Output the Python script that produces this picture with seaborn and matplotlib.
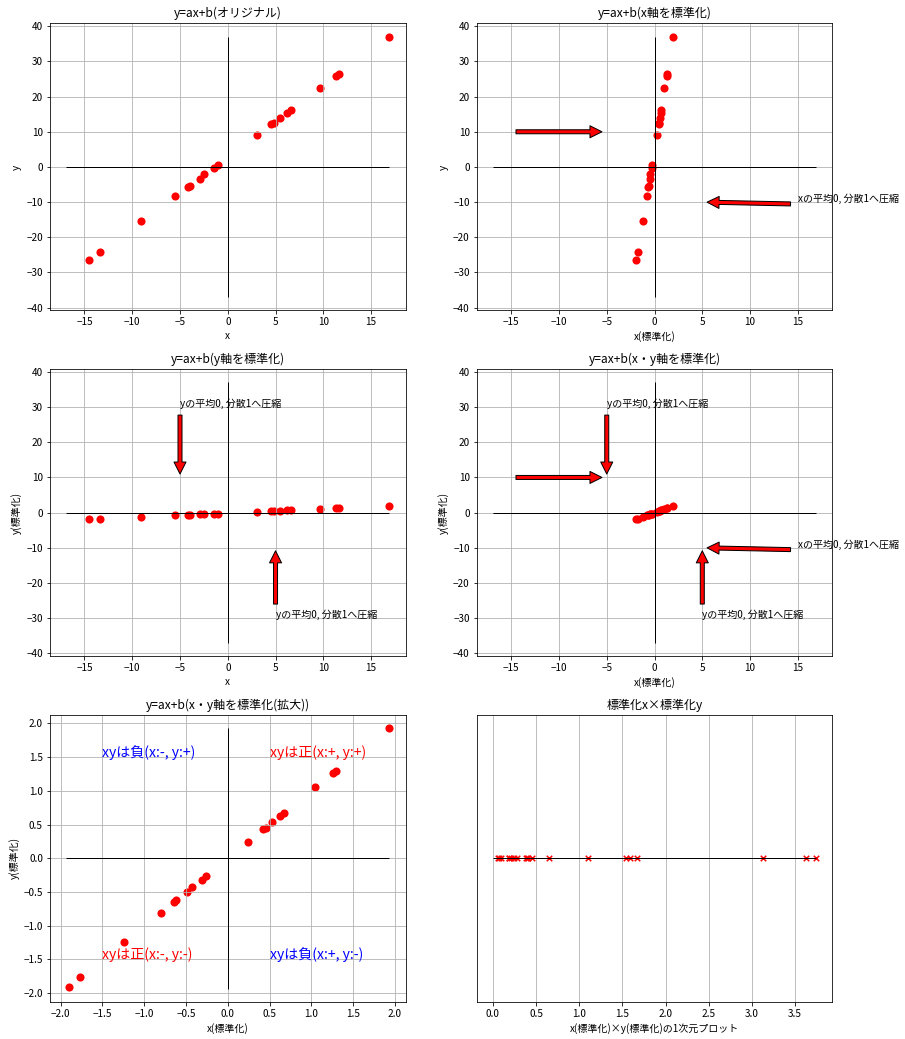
import numpy as np
import matplotlib
matplotlib.use("Agg")
import matplotlib.pyplot as plt
import seaborn as sns

# raw data
x_raw = np.array([-14.48, -13.42, -9.10, -5.50, -4.14, -3.98, -2.95, -2.45, -1.45, -1.06,
                  3.06, 4.55, 4.80, 5.43, 6.22, 6.59, 9.64, 11.38, 11.69, 16.92])
y_raw = np.array([-26.6, -24.3, -15.5, -8.4, -5.7, -5.3, -3.3, -2.1, -0.3, 0.6,
                  9.0, 12.1, 12.5, 13.9, 15.3, 16.1, 22.5, 25.9, 26.4, 37.1])

titles = ["y=ax+b(オリジナル)", "y=ax+b(x軸を標準化)", "y=ax+b(y軸を標準化)",
          "y=ax+b(x・y軸を標準化)", "y=ax+b(x・y軸を標準化(拡大))", "標準化x×標準化y"]
xlabels = ["x", "x(標準化)", "x", "x(標準化)", "x(標準化)", "x(標準化)×y(標準化)の1次元プロット"]
ylabels = ["y", "y", "y(標準化)", "y(標準化)", "y(標準化)", ""]

x_note = "xの平均0, 分散1へ圧縮"
y_note = "yの平均0, 分散1へ圧縮"
quad_texts = ["xyは負(x:-, y:+)", "xyは正(x:+, y:+)", "xyは正(x:-, y:-)", "xyは負(x:+, y:-)"]
quad_pos = [(-1.5, 1.5), (0.5, 1.5), (-1.5, -1.5), (0.5, -1.5)]
quad_colors = ["blue", "red", "red", "blue"]

# standardization
zx = (x_raw - x_raw.mean()) / x_raw.std()
zy = (y_raw - y_raw.mean()) / y_raw.std()
prod = zx * zy

sns.set_style("ticks", rc={
    "axes.edgecolor": "black",
    "axes.axisbelow": "line",
    "grid.color": "#b0b0b0",
    "grid.linewidth": 0.8,
    "xtick.color": "black",
    "ytick.color": "black",
    "axes.labelcolor": "black",
    "text.color": "black",
})
plt.rcParams["font.family"] = ["Noto Sans CJK JP", "DejaVu Sans"]
plt.rcParams["font.size"] = 10
plt.rcParams["axes.titlesize"] = 12
plt.rcParams["axes.labelsize"] = 10
plt.rcParams["xtick.labelsize"] = 10
plt.rcParams["ytick.labelsize"] = 10

fig, axes = plt.subplots(3, 2, figsize=(905 / 72, 1039 / 72), dpi=72)
fig.subplots_adjust(left=0.0552, right=0.9197, top=0.9774, bottom=0.0359,
                    wspace=0.20, hspace=0.205)
axes = axes.ravel()

xm = np.abs(x_raw).max()
ym = np.abs(y_raw).max()

arrow = dict(facecolor="red", edgecolor="black", shrink=0.05)

panels = [(x_raw, y_raw), (zx, y_raw), (x_raw, zy), (zx, zy)]
for i, (px, py) in enumerate(panels):
    ax = axes[i]
    ax.hlines(0, -xm, xm, color="black", linewidth=1)
    ax.vlines(0, -ym, ym, color="black", linewidth=1)
    sns.scatterplot(x=px, y=py, ax=ax, color="red", s=66, linewidth=0)
    ax.grid(True)
    if i in (1, 3):
        ax.annotate("", xy=(-5, 10), xytext=(-15, 10), arrowprops=arrow)
        ax.annotate(x_note, xy=(5, -10), xytext=(15, -10), arrowprops=arrow)
    if i in (2, 3):
        ax.annotate(y_note, xy=(-5, 10), xytext=(-5, 30), arrowprops=arrow)
        ax.annotate(y_note, xy=(5, -10), xytext=(5, -30), arrowprops=arrow)

# zoomed standardized plot
ax = axes[4]
ax.hlines(0, -np.abs(zx).max(), np.abs(zx).max(), color="black", linewidth=1)
ax.vlines(0, -np.abs(zy).max(), np.abs(zy).max(), color="black", linewidth=1)
sns.scatterplot(x=zx, y=zy, ax=ax, color="red", s=66, linewidth=0)
ax.grid(True)
for t, (tx, ty), c in zip(quad_texts, quad_pos, quad_colors):
    ax.text(tx, ty, t, color=c, fontsize=14)

# 1D product plot
ax = axes[5]
ax.hlines(0, 0, prod.max(), color="black", linewidth=1)
sns.scatterplot(x=prod, y=np.zeros_like(prod), ax=ax, color="red", marker="x",
                s=30, linewidth=1.5)
ax.set_yticks([])
ax.grid(True)

for ax, t, xl, yl in zip(axes, titles, xlabels, ylabels):
    ax.set_title(t)
    ax.set_xlabel(xl)
    ax.set_ylabel(yl)

fig.savefig("out.png", dpi=72)
